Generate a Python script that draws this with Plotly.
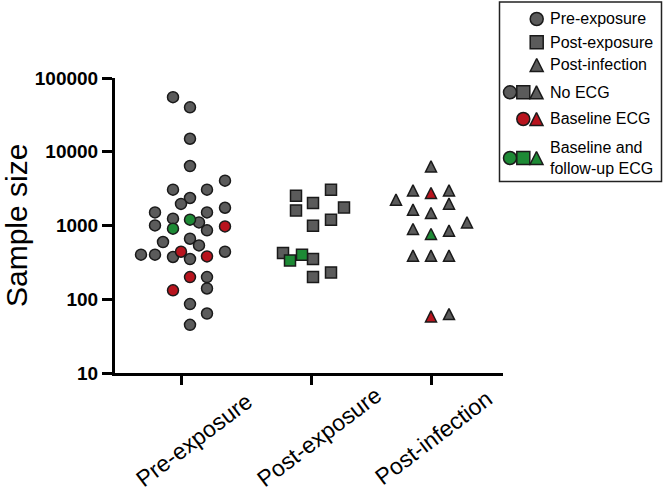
import plotly.graph_objects as go

# ---------------- data ----------------
categories = ["Pre-exposure", "Post-exposure", "Post-infection"]
category_x = [66, 196, 316]  # x-axis position of each category

# Pre-exposure (circles)
pre_none_offset = [-8, 9, 9, 9, 44, -8, 26, 9, 0, 44, -26, 26, -8, 18, -26, 26, 9, -18, 18, -40, -26, 44, -8, 9, 26, 26, 9, 26, 9]
pre_none_value = [55000, 40000, 15000, 6400, 4050, 3060, 3060, 2360, 1960, 1740, 1505, 1505, 1237, 1100, 1003, 859, 662, 597, 537, 402, 402, 441, 374, 351, 200, 140, 86, 64, 45]
pre_base_offset = [44, 0, 26, 9, -8]
pre_base_value = [973, 441, 381, 200, 132]
pre_follow_offset = [9, -8]
pre_follow_value = [1199, 905]

# Post-exposure (squares)
postexp_none_offset = [20, -15, 2, -15, 33, 20, 2, -28, 2, 2, 20]
postexp_none_value = [3060, 2535, 2018, 1603, 1759, 1199, 994, 424, 351, 200, 231]
postexp_follow_offset = [-21, -9]
postexp_follow_value = [336, 402]

# Post-infection (triangles)
postinf_none_offset = [0, -18, 18, 18, -18, 0, -35, 36, -18, 18, -18, 0, 18, 18]
postinf_none_value = [6330, 2990, 2990, 1976, 1638, 1477, 2239, 1101, 897, 850, 390, 390, 390, 63]
postinf_base_offset = [0, 0]
postinf_base_value = [2760, 58.5]
postinf_follow_offset = [0]
postinf_follow_value = [767]

y_tick_values = [10, 100, 1000, 10000, 100000]
y_tick_labels = ["10", "100", "1000", "10000", "100000"]

legend_rows = ["Pre-exposure", "Post-exposure", "Post-infection", "No ECG", "Baseline ECG",
               "Baseline and<br>follow-up ECG"]

# ---------------- style ----------------
W, H = 664, 492
FONT = "Liberation Sans, Arial, sans-serif"
GREY, RED, GREEN = "#5b5b5b", "#b8141e", "#1d8a35"
EDGE = "#1a1a1a"
MS = 11          # marker size in plot
LMS = 13         # marker size in legend
plot_left, plot_right, plot_top, plot_bottom = 115, 503, 78, 373
px_per_decade = (plot_bottom - plot_top) / 4
tri_shift = (MS / 2) / px_per_decade   # centre arrow-up triangles on their value


def px_x(p):
    return p / W


def px_y(p):
    return (H - p) / H


fig = go.Figure()


def add(cat, offsets, values, color, symbol, yaxis="y"):
    fig.add_trace(go.Scatter(
        x=[category_x[cat] + o for o in offsets], y=values, mode="markers",
        marker=dict(symbol=symbol, size=MS, color=color, line=dict(color=EDGE, width=1.5)),
        yaxis=yaxis, showlegend=False, cliponaxis=False, hoverinfo="y"))


add(0, pre_none_offset, pre_none_value, GREY, "circle")
add(0, pre_base_offset, pre_base_value, RED, "circle")
add(0, pre_follow_offset, pre_follow_value, GREEN, "circle")
add(1, postexp_none_offset, postexp_none_value, GREY, "square")
add(1, postexp_follow_offset, postexp_follow_value, GREEN, "square")
add(2, postinf_none_offset, postinf_none_value, GREY, "arrow-up", "y3")
add(2, postinf_base_offset, postinf_base_value, RED, "arrow-up", "y3")
add(2, postinf_follow_offset, postinf_follow_value, GREEN, "arrow-up", "y3")

# ---------------- legend (drawn on its own pixel-unit axes) ----------------
row_y = [19, 42.3, 65, 92.3, 119, 158]
legend_items = [
    # (row, x, color, symbol)
    (0, 536.7, GREY, "circle"),
    (1, 536.7, GREY, "square"),
    (2, 536.7, GREY, "arrow-up"),
    (3, 510, GREY, "circle"), (3, 523.3, GREY, "square"), (3, 536.5, GREY, "arrow-up"),
    (4, 523.3, RED, "circle"), (4, 536.5, RED, "arrow-up"),
    (5, 510, GREEN, "circle"), (5, 523.3, GREEN, "square"), (5, 536.5, GREEN, "arrow-up"),
]
for row, lx, col, sym in legend_items:
    ly = row_y[row] - (LMS / 2 if sym == "arrow-up" else 0)
    fig.add_trace(go.Scatter(
        x=[lx], y=[ly], xaxis="x2", yaxis="y2", mode="markers",
        marker=dict(symbol=sym, size=LMS, color=col, line=dict(color=EDGE, width=1.5)),
        showlegend=False, cliponaxis=False, hoverinfo="skip"))

annotations = []
for i, txt in enumerate(legend_rows):
    annotations.append(dict(x=548, y=row_y[i], xref="x2", yref="y2", text=txt, showarrow=False,
                            xanchor="left", yanchor="middle", align="left",
                            font=dict(family=FONT, size=16, color="black")))

# rotated category labels
label_centers = [(194, 440), (319, 437), (433, 438)]
for (cx, cy), txt in zip(label_centers, categories):
    annotations.append(dict(x=px_x(cx), y=px_y(cy), xref="paper", yref="paper", text=txt,
                            showarrow=False, textangle=-37, xanchor="center", yanchor="middle",
                            font=dict(family=FONT, size=23, color="black")))

# y-axis title
annotations.append(dict(x=px_x(16), y=px_y(226), xref="paper", yref="paper", text="Sample size",
                        showarrow=False, textangle=-90, xanchor="center", yanchor="middle",
                        font=dict(family=FONT, size=30, color="black")))

fig.update_layout(
    width=W, height=H, autosize=False,
    margin=dict(l=0, r=0, t=0, b=0, pad=0, autoexpand=False),
    paper_bgcolor="white", plot_bgcolor="white",
    font=dict(family=FONT, color="black"),
    xaxis=dict(domain=[px_x(plot_left), px_x(plot_right)], range=[0, plot_right - plot_left],
               tickvals=category_x, ticktext=[""] * 3, showticklabels=False,
               ticks="outside", ticklen=9, tickwidth=2.5, tickcolor="black",
               showline=True, linewidth=3, linecolor="black", showgrid=False, zeroline=False,
               fixedrange=True, automargin=False),
    yaxis=dict(domain=[px_y(plot_bottom), px_y(plot_top)], type="log", range=[1, 5],
               tickvals=y_tick_values, ticktext=y_tick_labels,
               tickfont=dict(family=FONT, size=19, weight="bold", color="black"),
               ticks="outside", ticklen=10, tickwidth=2.5, tickcolor="black",
               showline=True, linewidth=3, linecolor="black", showgrid=False, zeroline=False,
               anchor="x", fixedrange=True, automargin=False),
    yaxis3=dict(overlaying="y", anchor="x", type="log", range=[1 - tri_shift, 5 - tri_shift],
                visible=False, fixedrange=True, automargin=False),
    xaxis2=dict(domain=[px_x(499), px_x(662)], range=[499, 662], visible=False,
                anchor="y2", fixedrange=True, automargin=False),
    yaxis2=dict(domain=[px_y(182), px_y(2)], range=[182, 2], visible=False,
                anchor="x2", fixedrange=True, automargin=False),
    shapes=[dict(type="rect", xref="paper", yref="paper",
                 x0=px_x(499.5), x1=px_x(661.5), y0=px_y(181.5), y1=px_y(2),
                 line=dict(color="#222222", width=1.5), fillcolor="rgba(0,0,0,0)")],
    annotations=annotations,
)

post = (
    "var gd=document.getElementById('{plot_id}');"
    "gd.style.position='fixed';gd.style.left='0px';gd.style.top='0px';"
    "document.documentElement.style.margin='0';document.body.style.margin='0';"
    "document.documentElement.style.overflow='hidden';document.body.style.overflow='hidden';"
)

fig.write_html("out.html", config={"displayModeBar": False, "responsive": False}, post_script=post)
